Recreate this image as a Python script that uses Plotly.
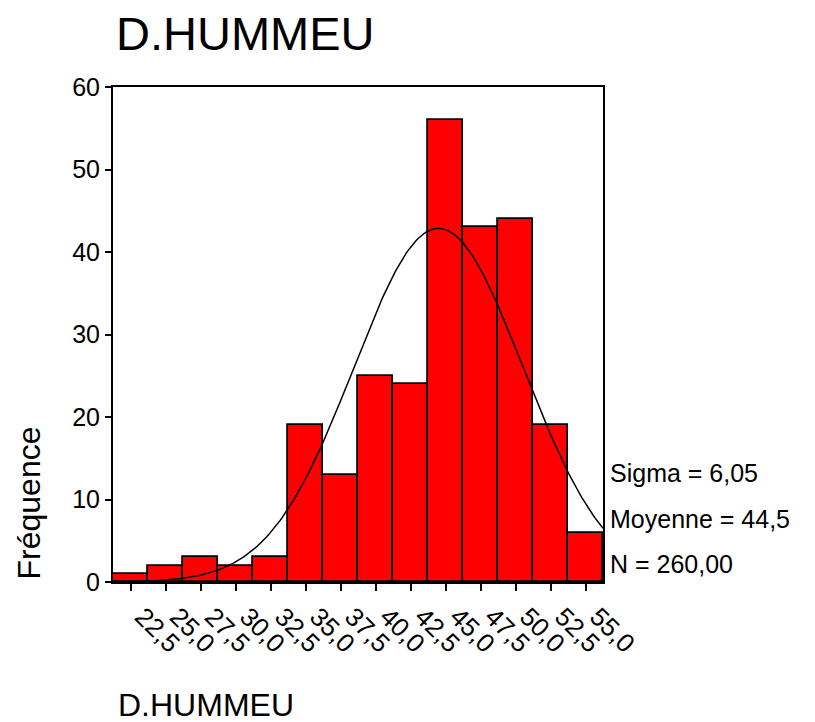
import numpy as np
import plotly.graph_objects as go

# Histogram bins (midpoints) and frequencies
bin_centers = [22.5, 25.0, 27.5, 30.0, 32.5, 35.0, 37.5, 40.0, 42.5, 45.0, 47.5, 50.0, 52.5, 55.0]
counts = [1, 2, 3, 2, 3, 19, 13, 25, 24, 56, 43, 44, 19, 6]
tick_labels = ["22,5", "25,0", "27,5", "30,0", "32,5", "35,0", "37,5",
               "40,0", "42,5", "45,0", "47,5", "50,0", "52,5", "55,0"]
bin_width = 2.5

# Summary statistics for the fitted normal curve
sigma = 6.05
mean = 44.5
n_obs = 260
stats_text = ["Sigma = 6,05", "Moyenne = 44,5", "N = 260,00"]

FONT = "Liberation Sans, Arial, sans-serif"

x_lo = bin_centers[0] - bin_width / 2
x_hi = bin_centers[-1] + bin_width / 2

fig = go.Figure()
fig.add_trace(go.Bar(
    x=bin_centers, y=counts, width=bin_width,
    marker=dict(color="#FF0000", line=dict(color="black", width=1.8)),
    showlegend=False, hoverinfo="x+y",
))

xs = np.linspace(x_lo, x_hi, 300)
ys = n_obs * bin_width / (sigma * np.sqrt(2 * np.pi)) * np.exp(-0.5 * ((xs - mean) / sigma) ** 2)
fig.add_trace(go.Scatter(x=xs, y=ys, mode="lines",
                         line=dict(color="black", width=1.5), showlegend=False))

# Statistics block to the right of the plot frame
for i, t in enumerate(stats_text):
    fig.add_annotation(text=t, xref="paper", yref="paper", x=1.0, xshift=5,
                       y=(582 - [473, 519, 564][i]) / 495, xanchor="left", yanchor="middle",
                       showarrow=False, font=dict(family=FONT, size=25, color="black"))

# Axis titles placed as free annotations (left-aligned x title, bottom-aligned y title)
fig.add_annotation(text="D.HUMMEU", xref="paper", yref="paper",
                   x=(116 - 113) / 490, y=-(705 - 582) / 495, xanchor="left", yanchor="middle",
                   showarrow=False, font=dict(family=FONT, size=32, color="black"))
fig.add_annotation(text="Fréquence", xref="paper", yref="paper", textangle=-90,
                   x=-(113 - 28) / 490, y=0, xanchor="center", yanchor="bottom",
                   showarrow=False, font=dict(family=FONT, size=32, color="black"))

fig.update_layout(
    width=815, height=722,
    margin=dict(l=113, r=212, t=87, b=140),
    paper_bgcolor="white", plot_bgcolor="white",
    bargap=0,
    font=dict(family=FONT, color="black"),
    title=dict(text="D.HUMMEU", x=116 / 815, xanchor="left", y=1 - 34 / 722, yanchor="middle",
               font=dict(family=FONT, size=47, color="black")),
    xaxis=dict(
        range=[x_lo, x_hi], tickvals=bin_centers, ticktext=tick_labels,
        tickangle=45, ticks="outside", ticklen=7, tickwidth=1.5, tickcolor="black",
        ticklabelshift=12,
        tickfont=dict(family=FONT, size=26, color="black"),
        showline=True, linecolor="black", linewidth=2, mirror=True,
        showgrid=False, zeroline=False,
    ),
    yaxis=dict(
        range=[0, 60], tickvals=[0, 10, 20, 30, 40, 50, 60],
        ticks="outside", ticklen=6, tickwidth=1.5, tickcolor="black",
        tickfont=dict(family=FONT, size=25, color="black"),
        showline=True, linecolor="black", linewidth=2, mirror=True,
        showgrid=False, zeroline=False,
    ),
)

fig.write_html("out.html")
